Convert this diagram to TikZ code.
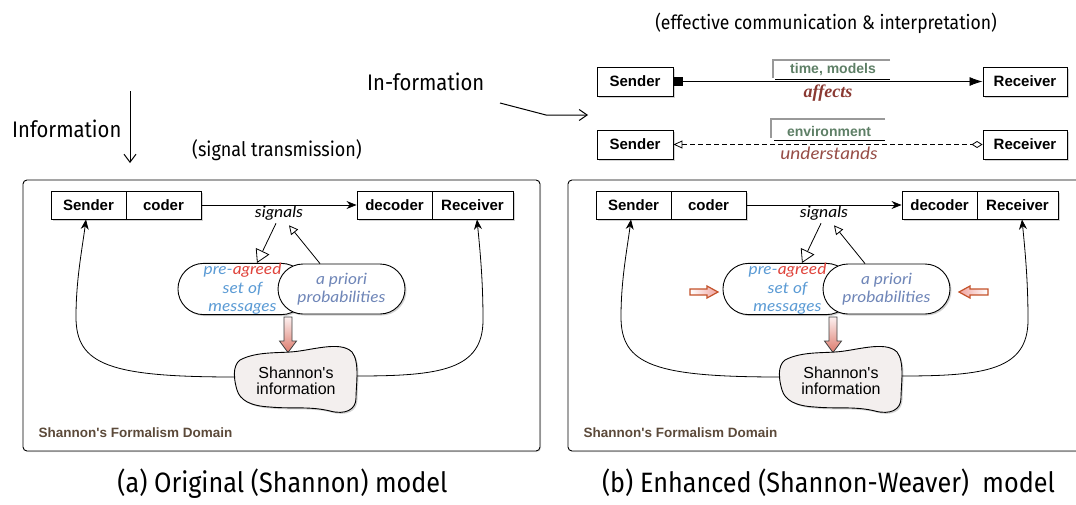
\documentclass[tikz,border=0pt]{standalone}
\usepackage{fontspec}
\setmainfont{Liberation Sans}
\newfontfamily\plainsans{Liberation Sans}
\newfontfamily\capfont[FakeStretch=0.9]{Fira Sans}
\newfontfamily\handfont[FakeStretch=1.12]{Lato}
\newfontfamily\bisf{Liberation Serif}
\usetikzlibrary{arrows.meta,shapes.misc,shadows}
\definecolor{txtgreen}{HTML}{5E7F66}
\definecolor{brownred}{HTML}{8B3A33}
\definecolor{domcol}{HTML}{5C4A3A}
\definecolor{pblue}{HTML}{5B9BD5}
\definecolor{pred}{HTML}{E0443C}
\definecolor{pslate}{HTML}{6F86B8}
\definecolor{blobfill}{HTML}{F3EFEE}
\definecolor{orng}{HTML}{C4522A}
\definecolor{salmon}{HTML}{DC7A6C}
\tikzset{
  shad/.style={drop shadow={shadow xshift=1.5pt,shadow yshift=-1.5pt,opacity=0.35}},
  bx/.style={draw,fill=white,line width=0.9pt,inner sep=0pt,minimum height=28pt,
    font=\bfseries\fontsize{15}{15}\selectfont,shad},
  frame/.style={draw,rounded corners=4pt,line width=0.9pt,fill=white,
    drop shadow={shadow xshift=1pt,shadow yshift=-1pt,opacity=0.25}},
  hand/.style={font=\handfont\itshape\fontsize{15.5}{18.5}\selectfont,inner sep=0pt},
  pill/.style={rounded rectangle,draw,fill=white,line width=0.9pt,minimum height=50pt,
    inner sep=0pt,align=center,hand,shad},
  conn/.style={line width=0.8pt},
  fatdown/.style={draw=black!75,line width=0.8pt,top color=pred!8,bottom color=salmon},
  orarrow/.style={draw=orng,line width=1.2pt},
  dom/.style={font=\plainsans\bfseries\fontsize{13.5}{13.5}\selectfont,text=domcol,inner sep=0pt},
  capt/.style={inner sep=0pt},
  smallbx/.style={draw,fill=white,line width=0.9pt,inner sep=0pt,minimum height=29pt,
    font=\bfseries\fontsize{15}{15}\selectfont,shad},
  grn/.style={font=\bfseries\fontsize{14}{14}\selectfont,text=txtgreen,inner sep=0pt},
  brk/.style={draw=black!40,line width=2.2pt},
}
\newcommand\shpanel[2]{%
\begin{scope}[xshift=#2]
\draw[frame] (23,180) rectangle (540,451);
\node[bx,minimum width=75pt] (#1snd) at (88.5,205) {Sender};
\node[bx,minimum width=75pt] (#1cod) at (163.5,205) {coder};
\node[bx,minimum width=75pt] (#1dec) at (394.5,205) {decoder};
\node[bx,minimum width=81pt] (#1rcv) at (472.5,205) {Receiver};
\draw[conn,-{Stealth[length=10pt,width=8pt]}] (#1cod) -- (#1dec);
\node[hand] (#1sig) at (279,213) {signals};
\node[pill,minimum width=115pt] (#1lp) at (242.5,289)
  {\textcolor{pblue}{pre-}\textcolor{pred}{agreed}\\\textcolor{pblue}{set of}\\\textcolor{pblue}{messages}};
\node[pill,minimum width=127pt,text=pslate] (#1rp) at (341.5,289) {a priori\\probabilities};
\draw[conn,-{Triangle[open,length=13pt,width=15pt,fill=white]}]
  ([xshift=-3pt,yshift=-3pt]#1sig.south) -- ([xshift=14.5pt]#1lp.north);
\draw[conn,-{Triangle[open,length=9pt,width=9pt,fill=white]}]
  ([xshift=-21.5pt]#1rp.north) -- ([xshift=10pt,yshift=-5pt]#1sig.south);
\path[fatdown] (284,317) -- (292,317) -- (292,341) -- (296.5,341) -- (288,352.5)
  -- (279.5,341) -- (284,341) -- cycle;
\draw[fill=blobfill,line width=0.9pt,shad]
  (240,360) .. controls (255,352) and (275,353) .. (290,352)
  .. controls (310,351) and (340,340) .. (352,352)
  .. controls (360,362) and (356,385) .. (356,398)
  .. controls (356,410) and (345,415) .. (330,411)
  .. controls (310,406) and (290,409) .. (270,407)
  .. controls (250,406) and (240,400) .. (237,390)
  .. controls (234,380) and (232,366) .. (240,360) -- cycle;
\node[minimum width=121pt,minimum height=60pt,inner sep=0pt,align=center,
  font=\plainsans\fontsize{16}{16.5}\selectfont] (#1blob) at (296,381) {Shannon's\\information};
\draw[conn,-{Stealth[length=10pt,width=8pt]}] ([yshift=4pt]#1blob.west)
  .. controls (110,377) and (76,365) .. (76,317)
  .. controls (76,280) and (82,250) .. ([xshift=-2.5pt]#1snd.south);
\draw[conn,-{Stealth[length=10pt,width=8pt]}] ([yshift=5pt]#1blob.east)
  .. controls (440,376) and (483,370) .. (483,320)
  .. controls (483,280) and (480,250) .. ([xshift=4.5pt]#1rcv.south);
\node[dom] (#1dom) at (135.5,433) {Shannon's Formalism Domain};
\end{scope}}
\begin{document}
\begin{tikzpicture}[x=1pt,y=-1pt]
\useasboundingbox (0,0) rectangle (1076,504);
\clip (0,0) rectangle (1076,504);
% top-left labels
\node[capt,anchor=base west,font=\capfont\fontsize{22.5}{22.5}\selectfont] (info) at (12,137) {Information};
\coordinate (iaT) at (130,91);
\coordinate (iaB) at (130,163);
\draw[line width=1pt,-{Straight Barb[length=8pt,width=12pt]}] (iaT) -- (iaB);
\node[capt,anchor=base west,font=\capfont\fontsize{20}{20}\selectfont] (sigtx) at (192,156) {(signal transmission)};
\node[capt,anchor=base west,font=\capfont\fontsize{22.5}{22.5}\selectfont] (infm) at (367,90) {In-formation};
\coordinate (ifS) at (500,103);
\coordinate (ifK) at (546,115);
\coordinate (ifE) at (588,115);
\draw[line width=1pt,-{Straight Barb[length=8pt,width=11pt]}] (ifS) -- (ifK) -- (ifE);
\node[capt,anchor=base,font=\capfont\fontsize{19.5}{19.5}\selectfont] (effc) at (826,29.5) {(effective communication \& interpretation)};
% top-right diagram
\node[smallbx,minimum width=76pt] (s1) at (635,81.5) {Sender};
\node[smallbx,minimum width=84pt] (r1) at (1025,81.5) {Receiver};
\node[smallbx,minimum width=76pt] (s2) at (635,144.5) {Sender};
\node[smallbx,minimum width=84pt] (r2) at (1025,144.5) {Receiver};
\draw[conn,{Square[length=9pt,width=9pt]}-{Latex[length=13pt,width=9pt]}] (s1) -- (r1);
\draw[conn,dash pattern=on 5pt off 3pt,{Triangle[open,length=9pt,width=8pt]}-{Diamond[open,length=11pt,width=7pt]}] (s2) -- (r2);
\draw[brk] (890,60) -- (773,60) -- (773,78);
\draw[line width=0.8pt] (775,79) -- (890,79);
\node[grn] (tm) at (833,70) {time, models};
\node[inner sep=0pt,font=\bisf\bfseries\itshape\fontsize{18}{18}\selectfont,text=brownred] (aff) at (828,93) {affects};
\draw[brk] (885,119) -- (771,119) -- (771,138);
\draw[line width=0.8pt] (774,140) -- (885,140);
\node[grn] (env) at (829,131) {environment};
\node[hand,font=\handfont\itshape\fontsize{17}{17}\selectfont,text=brownred!90] (und) at (829,153) {understands};
% panels
\shpanel{a}{0pt}
\shpanel{b}{545pt}
\path[orarrow,left color=white,right color=pred!50]
  (690,289) -- (707,289) -- (707,286) -- (718,292) -- (707,298) -- (707,295) -- (690,295) -- cycle;
\path[orarrow,left color=pred!50,right color=white]
  (988,289) -- (970,289) -- (970,286) -- (959,292) -- (970,298) -- (970,295) -- (988,295) -- cycle;
% captions
\node[capt,anchor=base,font=\capfont\fontsize{28}{28}\selectfont] (capa) at (282.5,492) {(a) Original (Shannon) model};
\node[capt,anchor=base,font=\capfont\fontsize{28}{28}\selectfont] (capb) at (828.5,492) {(b) Enhanced (Shannon-Weaver)\ \ model};
\end{tikzpicture}
\end{document}
